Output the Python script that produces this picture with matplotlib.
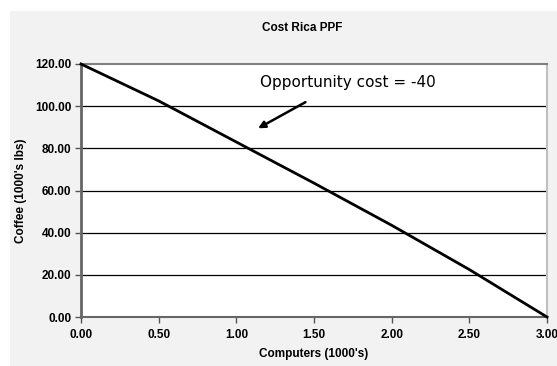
import matplotlib
matplotlib.use("Agg")
import matplotlib.pyplot as plt
from matplotlib.patches import Rectangle

computers = [0.0, 0.5, 1.0, 1.5, 2.0, 2.5, 3.0]
coffee = [120.0, 102.5, 83.0, 63.5, 43.5, 22.5, 0.0]
x_ticks = [0.0, 0.5, 1.0, 1.5, 2.0, 2.5, 3.0]
y_ticks = [0, 20, 40, 60, 80, 100, 120]

plt.rcParams['font.family'] = ['Liberation Sans', 'DejaVu Sans']

fig = plt.figure(figsize=(5.57, 3.66), dpi=100)
fig.patch.set_facecolor('white')
# grey chart area behind the plot
fig.patches.append(Rectangle((10/557, 0), 1, 1 - 11/366, transform=fig.transFigure,
                             facecolor='#f2f2f2', edgecolor='none', zorder=-5))

ax = fig.add_axes([81/557, 1 - 317/366, (547 - 81)/557, (317 - 64)/366])
ax.set_zorder(2)
ax.set_facecolor('white')

for y in y_ticks[1:-1]:
    ax.axhline(y, color='black', lw=0.9, zorder=1)

ax.plot(computers, coffee, color='black', lw=2, zorder=3, clip_on=False)

ax.set_xlim(0, 3)
ax.set_ylim(0, 120)
ax.set_xticks(x_ticks)
ax.set_yticks(y_ticks)
ax.set_xticklabels(['%.2f' % v for v in x_ticks], fontsize=8.5, fontweight='bold')
ax.set_yticklabels(['%.2f' % v for v in y_ticks], fontsize=8.5, fontweight='bold')
ax.tick_params(direction='out', length=4, width=1, color='#555555', pad=3)
ax.tick_params(axis='x', pad=5)

ax.spines['left'].set_color('#666666')
ax.spines['left'].set_linewidth(2)
ax.spines['bottom'].set_color('#666666')
ax.spines['bottom'].set_linewidth(1.5)
ax.spines['top'].set_color('#808080')
ax.spines['top'].set_linewidth(1.5)
ax.spines['right'].set_color('#c0c0c0')
ax.spines['right'].set_linewidth(1.5)

ax.set_xlabel("Computers (1000's)", fontsize=8.5, fontweight='bold', labelpad=5)
ax.set_ylabel("Coffee (1000's lbs)", fontsize=8.5, fontweight='bold', labelpad=6)

fig.text(302/557, 1 - 28/366, 'Cost Rica PPF', fontsize=8.5, fontweight='bold',
         ha='center', va='center')

ax.text(1.15, 111.3, 'Opportunity cost = -40', fontsize=11, family='DejaVu Sans',
        ha='left', va='center')
ax.annotate('', xy=(1.14, 89.5), xytext=(1.445, 101.9),
            arrowprops=dict(arrowstyle='-|>', color='black', lw=1.8,
                            mutation_scale=10, shrinkA=0, shrinkB=0))

fig.savefig('out.png', dpi=100)
